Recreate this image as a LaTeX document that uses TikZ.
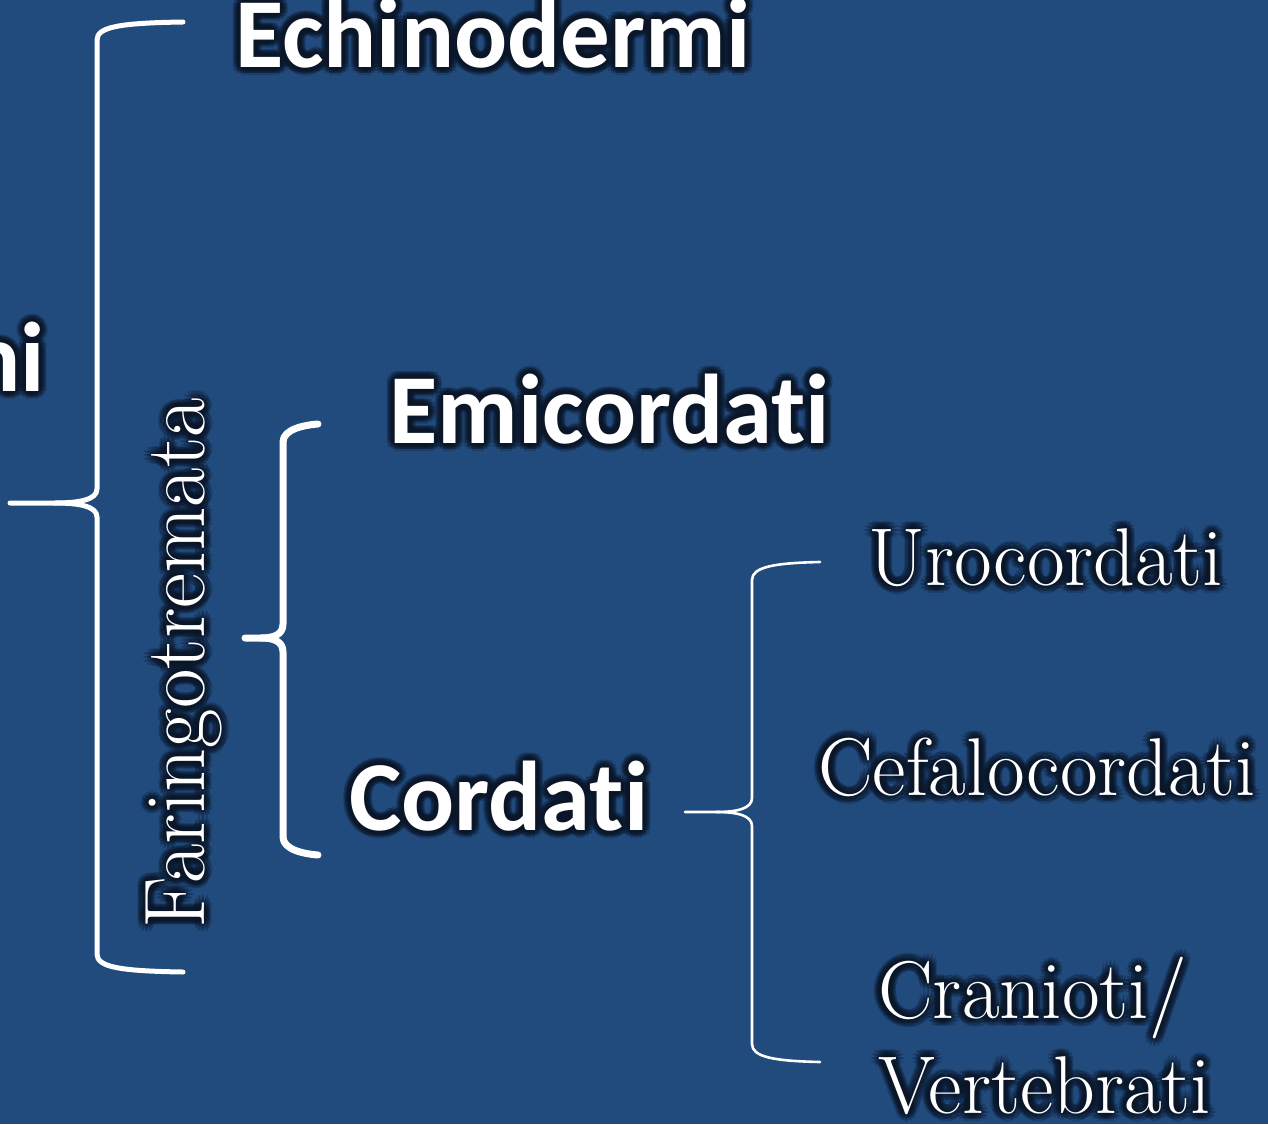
\documentclass[tikz,border=0pt]{standalone}
\usepackage{fontspec}
\newfontfamily\labsans{Carlito}[Ligatures=NoCommon]
\definecolor{bgblue}{HTML}{214A7D}
\definecolor{halo}{HTML}{0A1628}

% Dark soft halo behind a text: rings of faint copies under the white glyphs
\makeatletter
\newcommand\haloring[2]{%
  \foreach \a in {0,30,...,330}{%
    \pgfmathsetlengthmacro\hx{#1*cos(\a)}%
    \pgfmathsetlengthmacro\hy{#1*sin(\a)}%
    \rlap{\hspace*{\hx}\raisebox{\hy}{#2}}}}
\newcommand\haloed[1]{%
  \rlap{\pgfsys@beginscope\pgfsys@fill@opacity{0.24}\color{halo}%
    \haloring{2pt}{#1}\haloring{4pt}{#1}\haloring{6pt}{#1}\haloring{8pt}{#1}%
    \pgfsys@endscope}#1}
\makeatother

% Curly brace opening to the right: width, x of arm ends, x of spine, x of tip,
% y of top arm, y of tip, y of bottom arm, length of the tip's curved part
\newcommand\curly[8]{%
  \draw[braceline, line width=#1]
    (#2,#5) .. controls ($(#3,#5)+(22,1)$) and ($(#3,#5)+(0,5)$) .. ($(#3,#5)+(0,18)$)
    -- ($(#3,#6)-(0,14)$) .. controls ($(#3,#6)-(0,3)$) and ($(#3,#6)-(#8*0.45,0)$) .. ($(#3,#6)-(#8,0)$)
    -- (#4,#6);
  \draw[braceline, line width=#1]
    ($(#3,#6)-(#8,0)$) .. controls ($(#3,#6)-(#8*0.45,0)$) and ($(#3,#6)+(0,3)$) .. ($(#3,#6)+(0,14)$)
    -- ($(#3,#7)-(0,18)$) .. controls ($(#3,#7)-(0,5)$) and ($(#3,#7)+(22,-1)$) .. (#2,#7);}

\tikzset{
  braceline/.style={draw=white, line cap=round, line join=round},
  boldlabel/.style={text=white, inner sep=0pt, anchor=base west,
    font=\labsans\bfseries\fontsize{99}{100}\selectfont},
  seriflabel/.style={text=white, inner sep=0pt, anchor=base west,
    font=\fontsize{82}{93}\selectfont},
}

\usetikzlibrary{calc}

\begin{document}
\begin{tikzpicture}[x=1pt, y=-1pt]
\useasboundingbox (0,0) rectangle (1268,1124);
\fill[bgblue] (0,0) rectangle (1268,1124);
\clip (0,0) rectangle (1268,1124);

% taxa
\node[boldlabel, anchor=base east] (deut) at (45,391) {\haloed{Deuterostomi}};
\node[boldlabel] (echi) at (235,67) {\haloed{Echinodermi}};
\node[boldlabel] (emic) at (389,443) {\haloed{Emicordati}};
\node[boldlabel] (cord) at (349,830) {\haloed{Cordati}};
\node[seriflabel, rotate=90, font=\fontsize{86}{93}\selectfont] (fari) at (204,929)
  {\haloed{Faringotremata}};
\node[seriflabel] (uroc) at (868,585) {\haloed{Urocordati}};
\node[seriflabel] (cefa) at (818,795) {\haloed{Cefalocordati}};
\node[seriflabel, align=left] (cran) at (878,1113)
  {\haloed{Cranioti/}\\\haloed{Vertebrati}};

% braces joining each group
\curly{5}{183}{97}{10}{22}{503}{972}{42}
\curly{7}{318}{283}{245}{424}{638}{855}{22}
\curly{2.6}{820}{752}{685}{562}{812}{1062}{36}
\end{tikzpicture}
\end{document}
